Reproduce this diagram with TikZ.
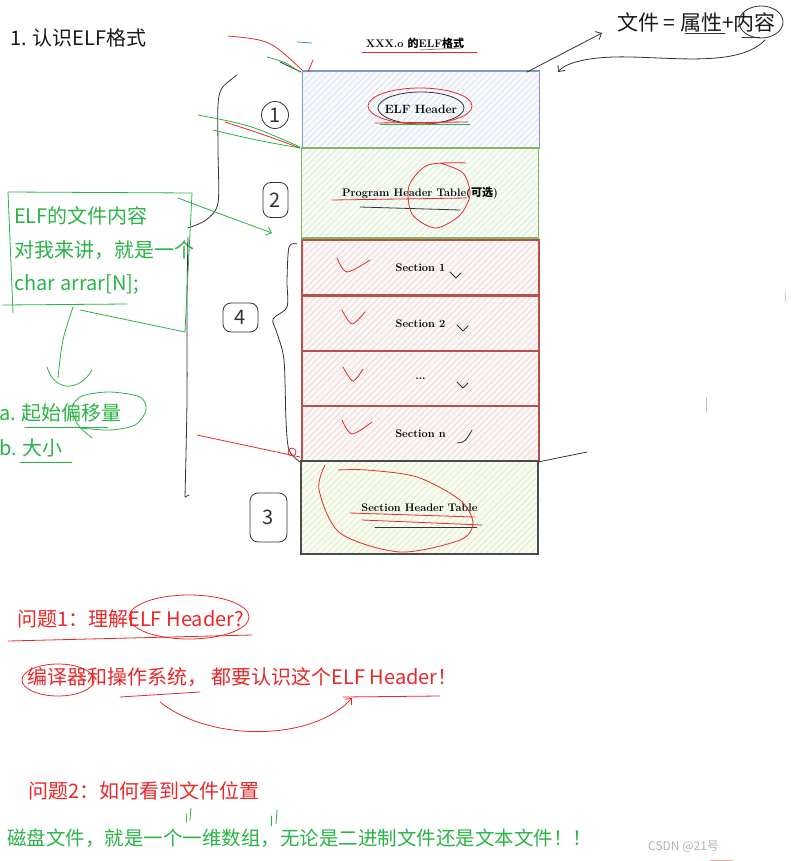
\documentclass[tikz,border=0pt]{standalone}
\usepackage{fontspec}
\newfontfamily\cjk{Noto Sans CJK SC}
\usetikzlibrary{arrows.meta,patterns.meta}

\definecolor{inkgreen}{RGB}{40,180,70}
\definecolor{inkred}{RGB}{235,40,40}
\definecolor{hdrblue}{RGB}{125,155,205}
\definecolor{phtgreen}{RGB}{130,185,95}
\definecolor{secred}{RGB}{185,80,80}
\definecolor{shtgray}{RGB}{75,75,75}
\definecolor{shtfill}{RGB}{175,215,100}

\begin{document}
\begin{tikzpicture}[x=1pt, y=-1pt,
  part/.style={draw, line width=1.3pt, minimum width=237pt, inner sep=0pt,
               font=\fontsize{11}{13}\selectfont\bfseries},
  hatch/.style={pattern={Lines[angle=45,distance=4.5pt,line width=0.5pt]}, pattern color=#1},
  phdr/.style={part, draw=hdrblue, preaction={fill=hdrblue!6}, hatch=hdrblue!35, minimum height=77pt,
               font=\fontsize{12}{14}\selectfont\bfseries},
  ppht/.style={part, draw=phtgreen, preaction={fill=phtgreen!6}, hatch=phtgreen!35, minimum height=90pt},
  psec/.style={part, draw=secred, preaction={fill=secred!5}, hatch=secred!30, minimum height=55pt},
  psht/.style={part, draw=shtgray, preaction={fill=shtfill!8}, hatch=shtfill!55, minimum height=93pt},
  ink/.style={inner sep=0pt, anchor=west, font=\cjk\fontsize{20}{24}\selectfont},
  gtxt/.style={ink, text=inkgreen},
  rtxt/.style={ink, text=inkred},
  num/.style={draw=black!80, line width=0.8pt, rounded corners=8pt, inner sep=0pt,
              text=black!80, font=\cjk\fontsize{20}{22}\selectfont},
  pen/.style={line width=0.8pt, line cap=round, line join=round},
  rpen/.style={pen, draw=inkred},
  gpen/.style={pen, draw=inkgreen},
  kpen/.style={pen, draw=black!80},
  barb/.style={-{Straight Barb[length=5pt,width=9pt]}}
]
\fill[white] (0,0) rectangle (790,861);
\useasboundingbox (0,0) rectangle (790,861);

%% ── stacked parts of the file ──────────────────────────────────────────
\node[phdr] (hdr)  at (421,109.5)  {ELF Header};
\node[ppht] (pht)  at (420,193)    {Program Header Table({\cjk 可选})};
\node[psec] (sec1) at (420.5,267.5) {Section 1};
\node[psec] (sec2) at (420.5,323.5) {Section 2};
\node[psec] (secd) at (420.5,379)   {...};
\node[psec] (secn) at (420.5,433.5) {Section n};
\node[psht] (sht)  at (419.5,507.5) {Section Header Table};

%% ── titles ─────────────────────────────────────────────────────────────
\node[ink, text=black!90] (title) at (10,38) {1. 认识ELF格式};
\node[inner sep=0pt, font=\fontsize{11}{13}\selectfont\bfseries] (fmt) at (415,43)
     {XXX.o {\cjk 的}ELF{\cjk 格式}};
\node[ink, text=black!90, font=\cjk\fontsize{21}{24}\selectfont] (eq) at (617,22) {文件 = 属性+内容};

%% ── notes ──────────────────────────────────────────────────────────────
\node[gtxt] (note1) at (14,216) {ELF的文件内容};
\node[gtxt] (note2) at (14,250) {对我来讲，就是一个};
\node[gtxt] (note3) at (14,284) {char arrar[N];};
\node[gtxt] (offs)  at (-1,413) {a. 起始偏移量};
\node[gtxt] (size)  at (-1,448) {b. 大小};

\node[rtxt] (q1) at (17,619) {问题1：理解ELF Header?};
\node[rtxt] (a1) at (27,677) {编译器和操作系统，\ 都要认识这个ELF Header！};
\node[rtxt] (q2) at (28,791) {问题2：如何看到文件位置};
\node[gtxt, font=\cjk\fontsize{19.5}{22}\selectfont] (a2) at (7,838)
     {磁盘文件，就是一个一维数组，无论是二进制文件还是文本文件！！};
\node[ink, text=black!30, font=\cjk\fontsize{12}{14}\selectfont] (wm) at (648,847) {CSDN @21号};

%% ── circled numbers ────────────────────────────────────────────────────
\node[num, circle, minimum size=27pt] (n1) at (275,115) {1};
\node[num, minimum width=25pt, minimum height=35pt] (n2) at (275.5,200) {2};
\node[num, minimum width=35pt, minimum height=29pt] (n4) at (240.5,317.5) {4};
\node[num, minimum width=37pt, minimum height=49pt] (n3) at (268.5,517.5) {3};

\coordinate (hdrtip) at (527,72);
\coordinate (eqin)   at (602,33);
\coordinate (eqout)  at (765,40);
\coordinate (hdrin)  at (558,72);
\coordinate (boxtip) at (272,233);
\coordinate (a1out)  at (160,702);
\coordinate (a1in)   at (352,698);

%% ── black pen ──────────────────────────────────────────────────────────
\draw[kpen, barb] (hdrtip) -- (eqin);
\draw[kpen, barb] (eqout) .. controls (740,66) and (680,58) .. (630,57)
                          .. controls (592,56) and (566,62) .. (hdrin);
\draw[kpen] (761,22) ellipse [x radius=22, y radius=16];
\draw[kpen] (685,33) -- (725,33);
\draw[kpen] (742,37) -- (760,37);
\draw[pen, draw=black!45] (420,50) -- (462,48);

% braces
\draw[kpen] plot[smooth] coordinates {(237,75) (222,88) (218,105) (218,150) (218,203) (206,220) (188,228)};
\draw[kpen] plot[smooth] coordinates {(188,237) (187,300) (187,400) (185,497)} -- (189,495);
\draw[kpen] plot[smooth] coordinates {(297,244) (289,247) (287,280) (287,307) (273,319) (277,333)
                                      (284,360) (286,420) (289,450) (300,462)};
\draw[kpen] (538,462) -- (587,452);
\draw[kpen] (280,62) -- (301,72);

% header marks
\draw[kpen] (421,108) ellipse [x radius=43, y radius=16];
\draw[kpen] (360,207) -- (460,210);
\draw[kpen] (375,527) -- (477,527);
\foreach \x/\y in {450/272, 457/325, 457/382}
  \draw[kpen] (\x,\y) -- ++(6,6) -- ++(5,-5);
\draw[kpen] (457,443) .. controls (465,442) .. (472,430);

%% ── red pen ────────────────────────────────────────────────────────────
\draw[rpen] (362,52) -- (477,52);
\draw[rpen] (228,36) .. controls (270,40) .. (302,70);
\draw[rpen] (313,60) -- (308,72);
\draw[rpen] (225,122) .. controls (265,135) .. (300,148);
\draw[rpen] (420,106) ellipse [x radius=52, y radius=18];
\draw[rpen] (375,123) -- (468,122);
\draw[rpen] plot[smooth] coordinates {(466,163) (428,165) (409,186) (412,214) (435,228)
                                      (459,216) (470,195) (463,173) (440,163)};
\draw[rpen] (332,200) -- (467,198);
\foreach \x/\y/\w in {337/258/33, 342/310/23, 343/367/20, 342/420/30}
  \draw[rpen] plot[smooth] coordinates {(\x,\y) (\x+10,\y+14) (\x+\w,\y+2)};
\draw[rpen] (197,435) -- (300,457);
\draw[rpen] (292,452) circle [radius=4];
\draw[rpen] plot[smooth] coordinates {(325,465) (319,490) (340,533) (400,552) (460,540)
                                      (473,523) (460,500) (417,477) (367,470) (338,470)};
\draw[rpen] (350,513) -- (475,517);
\draw[rpen] (362,520) -- (482,525);

\draw[rpen] (189,617) ellipse [x radius=60, y radius=22];
\draw[rpen] (8,641) -- (252,635);
\draw[rpen] (58,680) ellipse [x radius=36, y radius=16];
\draw[rpen] (120,697) -- (200,692);
\draw[rpen] (343,697) -- (440,696);
\draw[rpen, barb] (a1out) .. controls (210,742) and (312,742) .. (a1in);
\draw[pen, draw=inkred!40] (710,860) -- (733,860);

%% ── green pen ──────────────────────────────────────────────────────────
\draw[gpen] (267,57) .. controls (285,62) .. (300,72);
\draw[gpen] (297,42) -- (312,43);
\draw[gpen] (198,115) .. controls (250,125) .. (300,147);
\draw[gpen] (213,130) .. controls (255,140) .. (300,148);
\draw[gpen] (380,124) -- (470,124);

\draw[gpen] (13,313) -- (8,192) -- (192,193) -- (185,332) -- (80,310);
\draw[gpen] (3,305) -- (127,304);
\draw[gpen, barb] (178,198) .. controls (215,212) .. (boxtip);
\draw[gpen] (73,307) .. controls (62,340) .. (58,378);
\draw[gpen] (47,367) .. controls (55,393) and (80,391) .. (92,370);
\draw[gpen] plot[smooth] coordinates {(92,438) (78,425) (72,408) (82,396) (110,392)
                                      (140,397) (146,410) (135,425) (110,430) (80,428)};
\draw[gpen] (25,427) -- (108,427);
\draw[gpen] (20,462) -- (72,462);
\draw[gpen] (186,823) -- (187,813);
\draw[gpen] (190,820) -- (191,808);
\draw[gpen] (271,826) -- (271,816);
\draw[gpen] (276,824) -- (277,810);

% faint marks
\draw[pen, draw=black!25] (706,398) -- (706,412);
\draw[pen, draw=black!25] (785,292) -- (786,302);
\end{tikzpicture}
\end{document}
